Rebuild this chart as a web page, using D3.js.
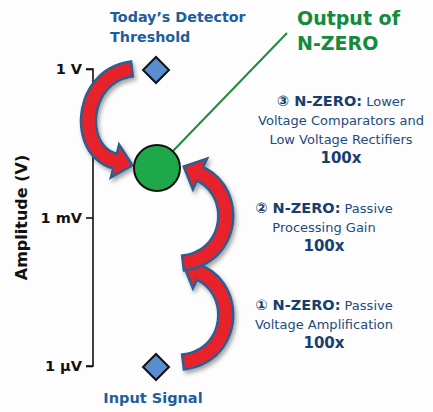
<!DOCTYPE html>
<html>
<head>
<meta charset="utf-8">
<script src="https://cdn.jsdelivr.net/npm/d3@7"></script>
<style>
  body { margin: 0; background: #fdfdfe; }
  svg { display: block; }
</style>
</head>
<body>
<svg id="chart" width="433" height="412"></svg>
<script>
// tick values / labels for the log amplitude axis
const tickValues = [1e-6, 1e-3, 1];
const tickLabels = ["1 \u00b5V", "1 mV", "1 V"];

// signal levels: input, after stage 1, after stage 2 (output), detector threshold
const inputLevel = 1e-6;
const outputLevel = 1e-2;
const thresholdLevel = 1;

// gain stages: from -> to level, side of the arrow
const stages = [
  { from: 1e-6, to: 1e-4, side: "right" },
  { from: 1e-4, to: 1e-2, side: "right" },
  { from: 1,    to: 1e-2, side: "left" }
];

// annotation text blocks
const notes = [
  { num: "\u2462", bold: "N-ZERO:", rest: [" Lower", "Voltage Comparators and", "Low Voltage Rectifiers"], gain: "100x", level: 1e-0, dy: 31, cx: 341 },
  { num: "\u2461", bold: "N-ZERO:", rest: [" Passive", "Processing Gain"], gain: "100x", level: 1e-3, dy: -11, cx: 324 },
  { num: "\u2460", bold: "N-ZERO:", rest: [" Passive", "Voltage Amplification"], gain: "100x", level: 1e-6, dy: -62, cx: 324 }
];

const svg = d3.select("#chart");
const axisX = 93, markX = 156;
const font = "DejaVu Sans, Verdana, sans-serif";

const y = d3.scaleLog().domain([1e-6, 1]).range([366, 69]);

// drop shadow for arrows
const defs = svg.append("defs");
const f = defs.append("filter").attr("id", "shadow")
    .attr("x", "-20%").attr("y", "-20%").attr("width", "150%").attr("height", "150%");
f.append("feDropShadow").attr("dx", 2).attr("dy", 3)
    .attr("stdDeviation", 2).attr("flood-color", "#000").attr("flood-opacity", 0.35);

// axis
const axis = d3.axisLeft(y).tickValues(tickValues)
    .tickFormat((d, i) => tickLabels[i]).tickSize(7).tickPadding(4);
const ag = svg.append("g").attr("transform", `translate(${axisX},0)`).call(axis);
ag.select(".domain").attr("d", `M-7,${y(1e-6)}H0V${y(1)}H-7`)
    .attr("stroke", "#111").attr("stroke-width", 1.6).attr("fill", "none");
ag.selectAll(".tick line").attr("stroke", "#111").attr("stroke-width", 1.6);
ag.selectAll(".tick text")
    .attr("font-family", font)
    .attr("font-weight", "bold").attr("font-size", 14.5).attr("fill", "#111");

svg.append("text")
    .attr("transform", `translate(27,${(y(1e-6) + y(1)) / 2}) rotate(-90)`)
    .attr("text-anchor", "middle")
    .attr("font-family", font)
    .attr("font-weight", "bold").attr("font-size", 16).attr("fill", "#111")
    .text("Amplitude (V)");

// arrow shape: sample a cubic bezier, offset both sides, add a head
function arrowPath(p0, c1, c2, p3, halfW, headHalf, headLen) {
  const n = 40, left = [], right = [];
  const bez = (t, a, b, c, d) => (1-t)**3*a + 3*(1-t)**2*t*b + 3*(1-t)*t*t*c + t**3*d;
  const der = (t, a, b, c, d) => 3*(1-t)**2*(b-a) + 6*(1-t)*t*(c-b) + 3*t*t*(d-c);
  for (let i = 0; i <= n; i++) {
    const t = i / n;
    const x = bez(t, p0[0], c1[0], c2[0], p3[0]), yy = bez(t, p0[1], c1[1], c2[1], p3[1]);
    let dx = der(t, p0[0], c1[0], c2[0], p3[0]), dy = der(t, p0[1], c1[1], c2[1], p3[1]);
    const l = Math.hypot(dx, dy); dx /= l; dy /= l;
    left.push([x - dy * halfW, yy + dx * halfW]);
    right.push([x + dy * halfW, yy - dx * halfW]);
  }
  let dx = p3[0] - c2[0], dy = p3[1] - c2[1];
  const l = Math.hypot(dx, dy); dx /= l; dy /= l;
  const tip = [p3[0] + dx * headLen, p3[1] + dy * headLen];
  const wl = [p3[0] - dy * headHalf, p3[1] + dx * headHalf];
  const wr = [p3[0] + dy * headHalf, p3[1] - dx * headHalf];
  const pts = left.concat([wl, tip, wr]).concat(right.reverse());
  return "M" + pts.map(p => p[0].toFixed(1) + "," + p[1].toFixed(1)).join("L") + "Z";
}

const arrows = svg.append("g").attr("filter", "url(#shadow)");
stages.forEach(s => {
  const y0 = y(s.from), y1 = y(s.to);
  let p0, c1, c2, p3;
  if (s.side === "right") {
    p0 = [markX + 27, y0 - 4];
    c1 = [markX + 78, y0 - 10];
    c2 = [markX + 83, y1 + 24];
    p3 = [markX + 44, y1 + 6];
  } else {
    p0 = [markX - 24, y0];
    c1 = [markX - 76, y0 + 6];
    c2 = [markX - 81, y1 - 17];
    p3 = [markX - 41, y1 - 7];
  }
  arrows.append("path")
    .attr("d", arrowPath(p0, c1, c2, p3, 7.5, 17, 18))
    .attr("fill", "#e8232b").attr("stroke", "#2c5f91").attr("stroke-width", 2.5)
    .attr("stroke-linejoin", "miter");
});

// leader line from output to label
svg.append("line")
    .attr("x1", markX + 16).attr("y1", y(outputLevel) - 16)
    .attr("x2", 287).attr("y2", 33)
    .attr("stroke", "#1f8a3c").attr("stroke-width", 2);

// markers
const diamond = d3.symbol().type(d3.symbolDiamond2).size(430);
svg.selectAll(".dia").data([inputLevel, thresholdLevel]).join("path")
    .attr("class", "dia")
    .attr("d", diamond)
    .attr("transform", d => `translate(${markX},${y(d) + 1})`)
    .attr("fill", "#5a8dcf").attr("stroke", "#111").attr("stroke-width", 2);

svg.append("circle")
    .attr("cx", markX + 1).attr("cy", y(outputLevel))
    .attr("r", 23)
    .attr("fill", "#1fa84a").attr("stroke", "#111").attr("stroke-width", 2);

// labels
const topLab = svg.append("text").attr("font-family", font).attr("font-weight", "bold")
    .attr("font-size", 14.3).attr("fill", "#1f5e9c");
topLab.append("tspan").attr("x", 110).attr("y", 22).text("Today\u2019s Detector");
topLab.append("tspan").attr("x", 110).attr("y", 42).text("Threshold");

svg.append("text").attr("x", 153).attr("y", 403).attr("text-anchor", "middle")
    .attr("font-family", font).attr("font-weight", "bold").attr("font-size", 14.5)
    .attr("fill", "#1f5e9c").text("Input Signal");

const outLab = svg.append("text").attr("font-family", font)
    .attr("font-weight", "bold").attr("font-size", 19).attr("fill", "#158a3a");
outLab.append("tspan").attr("x", 297).attr("y", 25).text("Output of");
outLab.append("tspan").attr("x", 297).attr("y", 50).text("N-ZERO");

notes.forEach(n => {
  const t = svg.append("text").attr("text-anchor", "middle")
      .attr("font-family", font).attr("font-size", 13).attr("fill", "#1e4b7d");
  const base = y(n.level) + n.dy + 6;
  const first = t.append("tspan").attr("x", n.cx).attr("y", base);
  first.append("tspan").attr("font-weight", "bold").attr("font-size", 14.5)
      .attr("fill", "#173f6e").text(n.num + " " + n.bold);
  first.append("tspan").text(n.rest[0]);
  n.rest.slice(1).forEach((r, i) => {
    t.append("tspan").attr("x", n.cx).attr("y", base + 19 * (i + 1)).text(r);
  });
  t.append("tspan").attr("x", n.cx).attr("y", base + 19 * n.rest.length)
      .attr("font-weight", "bold").attr("font-size", 15)
      .attr("fill", "#173f6e").text(n.gain);
});
</script>
</body>
</html>
